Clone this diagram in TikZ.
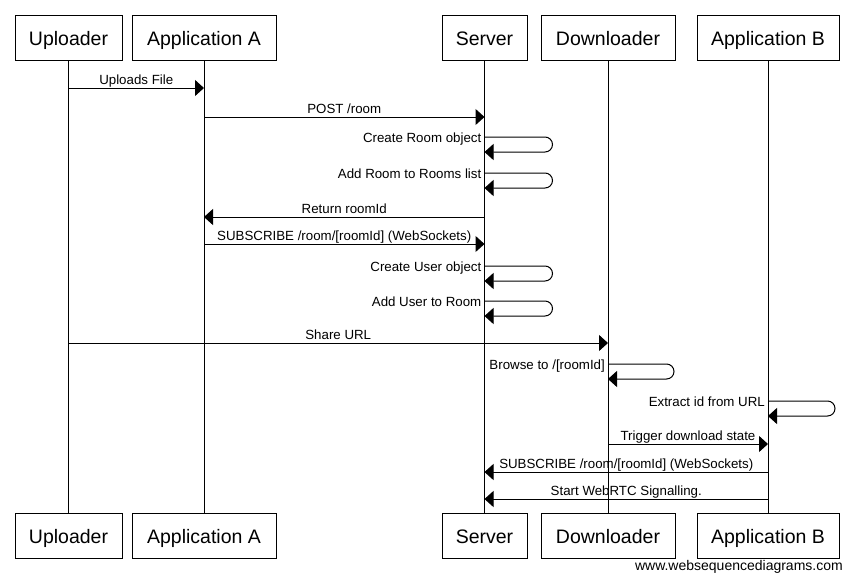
\documentclass[tikz,border=0pt]{standalone}
\usepackage{fontspec}
\setmainfont{Liberation Sans}
\usetikzlibrary{arrows.meta,calc}
\begin{document}
\begin{tikzpicture}[x=1pt,y=-1pt,
  actor/.style={draw,line width=1pt,minimum height=45pt,inner sep=0pt,
    text height=15pt,text depth=0pt,font=\fontsize{19.5}{20}\selectfont},
  life/.style={line width=1pt},
  msgline/.style={line width=1pt,-{Triangle[length=9pt,width=16pt]}},
  selfline/.style={line width=1pt,rounded corners=7.5pt,-{Triangle[length=9pt,width=16pt]}},
  lbl/.style={font=\fontsize{13.3}{13.3}\selectfont,inner sep=0pt,anchor=base,yshift=3.5pt},
  slbl/.style={font=\fontsize{13.3}{13.3}\selectfont,inner sep=0pt,anchor=base east}
]
\useasboundingbox (0,0) rectangle (855,582);
\fill[white] (0,0) rectangle (855,582);

% top actors
\node[actor,minimum width=107pt] (ut) at (68.5,37.5) {Uploader};
\node[actor,minimum width=144pt] (at) at (204,37.5) {Application A};
\node[actor,minimum width=85pt]  (st) at (484.5,37.5) {Server};
\node[actor,minimum width=134pt] (dt) at (608,37.5) {Downloader};
\node[actor,minimum width=142pt] (bt) at (768,37.5) {Application B};
% bottom actors
\node[actor,minimum width=107pt] (ub) at (68.5,535.5) {Uploader};
\node[actor,minimum width=144pt] (ab) at (204,535.5) {Application A};
\node[actor,minimum width=85pt]  (sb) at (484.5,535.5) {Server};
\node[actor,minimum width=134pt] (db) at (608,535.5) {Downloader};
\node[actor,minimum width=142pt] (bb) at (768,535.5) {Application B};

% lifelines
\draw[life] (ut.south) -- (ub.north);
\draw[life] (at.south) -- (ab.north);
\draw[life] (st.south) -- (sb.north);
\draw[life] (dt.south) -- (db.north);
\draw[life] (bt.south) -- (bb.north);

% message points
\coordinate (m1a) at (ut.south |- 0,88);
\coordinate (m1b) at (at.south |- 0,88);
\coordinate (m2a) at (at.south |- 0,117);
\coordinate (m2b) at (st.south |- 0,117);
\coordinate (s1a) at (st.south |- 0,137);
\coordinate (s1b) at (st.south |- 0,152);
\coordinate (s2a) at (st.south |- 0,173);
\coordinate (s2b) at (st.south |- 0,188);
\coordinate (m3a) at (st.south |- 0,217);
\coordinate (m3b) at (at.south |- 0,217);
\coordinate (m4a) at (at.south |- 0,244);
\coordinate (m4b) at (st.south |- 0,244);
\coordinate (s3a) at (st.south |- 0,266);
\coordinate (s3b) at (st.south |- 0,281);
\coordinate (s4a) at (st.south |- 0,301);
\coordinate (s4b) at (st.south |- 0,316);
\coordinate (m5a) at (ut.south |- 0,343);
\coordinate (m5b) at (dt.south |- 0,343);
\coordinate (s5a) at (dt.south |- 0,364);
\coordinate (s5b) at (dt.south |- 0,379);
\coordinate (s6a) at (bt.south |- 0,401);
\coordinate (s6b) at (bt.south |- 0,416);
\coordinate (m6a) at (dt.south |- 0,444);
\coordinate (m6b) at (bt.south |- 0,444);
\coordinate (m7a) at (bt.south |- 0,472);
\coordinate (m7b) at (st.south |- 0,472);
\coordinate (m8a) at (bt.south |- 0,499);
\coordinate (m8b) at (st.south |- 0,499);

% messages
\draw[msgline] (m1a) -- node[lbl]{Uploads File} (m1b);
\draw[msgline] (m2a) -- node[lbl]{POST /room} (m2b);
\draw[selfline] (s1a) -- ++(68,0) -- ++(0,15) -- (s1b);
\node[slbl] (l1) at ($(s1a)+(-3,5)$) {Create Room object};
\draw[selfline] (s2a) -- ++(68,0) -- ++(0,15) -- (s2b);
\node[slbl] (l2) at ($(s2a)+(-3,5)$) {Add Room to Rooms list};
\draw[msgline] (m3a) -- node[lbl]{Return roomId} (m3b);
\draw[msgline] (m4a) -- node[lbl]{SUBSCRIBE /room/[roomId] (WebSockets)} (m4b);
\draw[selfline] (s3a) -- ++(68,0) -- ++(0,15) -- (s3b);
\node[slbl] (l3) at ($(s3a)+(-3,5)$) {Create User object};
\draw[selfline] (s4a) -- ++(68,0) -- ++(0,15) -- (s4b);
\node[slbl] (l4) at ($(s4a)+(-3,5)$) {Add User to Room};
\draw[msgline] (m5a) -- node[lbl]{Share URL} (m5b);
\draw[selfline] (s5a) -- ++(66,0) -- ++(0,15) -- (s5b);
\node[slbl] (l5) at ($(s5a)+(-3,5)$) {Browse to /[roomId]};
\draw[selfline] (s6a) -- ++(67,0) -- ++(0,15) -- (s6b);
\node[slbl] (l6) at ($(s6a)+(-3,5)$) {Extract id from URL};
\draw[msgline] (m6a) -- node[lbl]{Trigger download state} (m6b);
\draw[msgline] (m7a) -- node[lbl]{SUBSCRIBE /room/[roomId] (WebSockets)} (m7b);
\draw[msgline] (m8a) -- node[lbl]{Start WebRTC Signalling.} (m8b);

% watermark
\node[font=\fontsize{14}{14}\selectfont,inner sep=0pt,anchor=base east] (wm) at (843,570) {www.websequencediagrams.com};
\end{tikzpicture}
\end{document}
